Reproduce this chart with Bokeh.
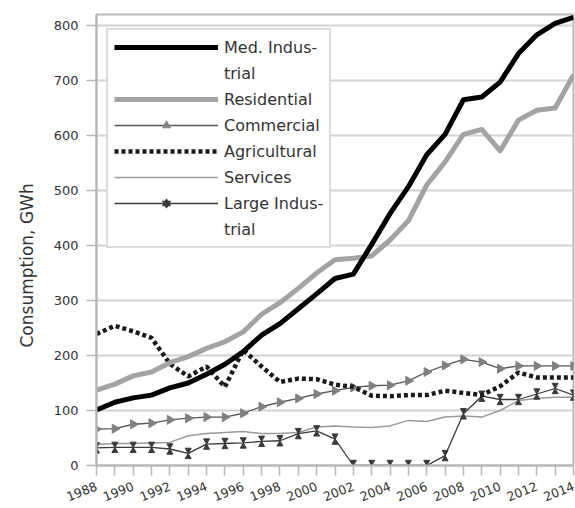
import math

from bokeh.plotting import figure
from bokeh.models import Range1d, FixedTicker, Legend, LegendItem, ColumnDataSource, Title
from bokeh.embed import file_html
from bokeh.resources import INLINE

# Electricity consumption by sector, GWh
years = [1988, 1989, 1990, 1991, 1992, 1993, 1994, 1995, 1996, 1997, 1998, 1999, 2000,
         2001, 2002, 2003, 2004, 2005, 2006, 2007, 2008, 2009, 2010, 2011, 2012, 2013, 2014]

med_industrial = [101, 115, 123, 128, 141, 150, 166, 184, 207, 237, 258, 285, 312,
                  340, 348, 402, 458, 507, 565, 602, 665, 670, 697, 749, 783, 804, 815]
residential = [137, 148, 163, 170, 187, 198, 213, 225, 243, 275, 296, 322, 350,
               374, 377, 381, 410, 445, 510, 552, 602, 611, 572, 628, 646, 650, 710]
commercial = [66, 67, 75, 77, 83, 86, 88, 88, 95, 107, 115, 122, 130,
              136, 142, 145, 146, 154, 170, 182, 193, 188, 176, 181, 181, 181, 181]
agricultural = [239, 254, 244, 232, 185, 162, 180, 143, 210, 180, 152, 158, 157,
                147, 143, 127, 126, 128, 128, 136, 132, 128, 144, 169, 160, 160, 160]
services = [38, 40, 40, 41, 42, 54, 58, 60, 62, 58, 58, 60, 70,
            72, 70, 69, 72, 82, 80, 88, 90, 88, 100, 118, 122, 124, 124]
large_industrial = [32, 33, 33, 33, 30, 22, 39, 40, 41, 44, 45, 58, 63,
                    48, 0, 0, 0, 0, 0, 18, 94, 126, 120, 120, 130, 140, 128]

y_ticks = [0, 100, 200, 300, 400, 500, 600, 700, 800]
x_label_years = [1988, 1990, 1992, 1994, 1996, 1998, 2000, 2002, 2004, 2006, 2008, 2010, 2012, 2014]

X_MIN, X_MAX = 1988, 2014
Y_MAX = 820
FRAME_L, FRAME_T, FRAME_W, FRAME_H = 96, 14, 477, 452
FONT = "DejaVu Sans"
TEXT = "#333333"
FRAME_GRAY = "#b8b8b8"

# pixel -> data conversion (vertical)
px_y = Y_MAX / FRAME_H

p = figure(width=575, height=508, output_backend="svg", toolbar_location=None,
           x_range=Range1d(X_MIN, X_MAX), y_range=Range1d(0, Y_MAX),
           min_border_left=FRAME_L, min_border_right=575 - FRAME_L - FRAME_W,
           min_border_top=FRAME_T, min_border_bottom=508 - FRAME_T - FRAME_H,
           background_fill_color="white", border_fill_color="white")

p.outline_line_color = FRAME_GRAY
p.outline_line_width = 2
p.xgrid.visible = False
p.ygrid.grid_line_color = "#d2d2d2"
p.ygrid.grid_line_width = 2

# a tick every year, a slanted label every second year
p.xaxis.ticker = FixedTicker(ticks=years)
p.xaxis.major_label_overrides = {yr: (str(yr) if yr in x_label_years else "") for yr in years}
p.xaxis.major_label_orientation = 0.38
p.xaxis.major_label_standoff = 10
p.xaxis.major_label_text_font_size = "12.5px"
p.yaxis.ticker = FixedTicker(ticks=y_ticks)
p.yaxis.major_label_standoff = 8
p.yaxis.major_label_text_font_size = "13px"

for ax in (p.xaxis[0], p.yaxis[0]):
    ax.axis_line_color = FRAME_GRAY
    ax.axis_line_width = 2
    ax.major_tick_line_color = FRAME_GRAY
    ax.major_tick_line_width = 1.5
    ax.major_tick_out = 10
    ax.major_tick_in = 0
    ax.minor_tick_line_color = None
    ax.major_label_text_font = FONT
    ax.major_label_text_color = TEXT

# vertical axis title
p.add_layout(Title(text="Consumption, GWh", align="left", offset=118, standoff=28,
                   text_font=FONT, text_font_size="17px", text_font_style="normal",
                   text_color=TEXT), "left")

# thin series
r_serv = p.line(years, services, line_color="#9a9a9a", line_width=1.5)

r_large = p.line(years, large_industrial, line_color="#3a3a3a", line_width=1.3)
# hourglass marker built from two triangles meeting at the data point
hg_size = 6
hg_px = hg_size / 2 * math.sqrt(3) * 2 / 3  # centroid-to-apex distance in px
hg_off = hg_px * px_y
r_large_top = p.scatter(years, [v + hg_off for v in large_industrial], marker="inverted_triangle",
                        size=hg_size, fill_color="#3a3a3a", line_color="#3a3a3a", line_width=1)
r_large_bot = p.scatter(years, [v - hg_off for v in large_industrial], marker="triangle",
                        size=hg_size, fill_color="#3a3a3a", line_color="#3a3a3a", line_width=1)

r_comm = p.line(years, commercial, line_color="#555555", line_width=1.3)
comm_src = ColumnDataSource(dict(x=years, y=commercial, a=[-math.pi / 2] * len(years)))
r_comm_m = p.scatter(x="x", y="y", angle="a", angle_units="rad", source=comm_src,
                     marker="triangle", size=9, fill_color="#808080", line_color="#808080")

r_agri = p.line(years, agricultural, line_color="#1a1a1a", line_width=4.5, line_dash="4 3")

r_res = p.line(years, residential, line_color="#a3a3a3", line_width=5, line_join="round")
r_med = p.line(years, med_industrial, line_color="#000000", line_width=5, line_join="round")

# invisible renderer for the wrapped second line of long legend labels
r_blank = p.line([], [], line_alpha=0)

legend = Legend(items=[
    LegendItem(label="Med. Indus-", renderers=[r_med]),
    LegendItem(label="trial", renderers=[r_blank]),
    LegendItem(label="Residential", renderers=[r_res]),
    LegendItem(label="Commercial", renderers=[r_comm, r_comm_m]),
    LegendItem(label="Agricultural", renderers=[r_agri]),
    LegendItem(label="Services", renderers=[r_serv]),
    LegendItem(label="Large Indus-", renderers=[r_large, r_large_top, r_large_bot]),
    LegendItem(label="trial", renderers=[r_blank]),
], location=(10, 217))
legend.border_line_color = FRAME_GRAY
legend.border_line_width = 2
legend.background_fill_color = "white"
legend.background_fill_alpha = 1
legend.padding = 6
legend.spacing = 4
legend.margin = 0
legend.glyph_width = 104
legend.glyph_height = 20
legend.label_standoff = 6
legend.label_height = 22
legend.label_text_font = FONT
legend.label_text_font_size = "16px"
legend.label_text_color = TEXT
p.add_layout(legend)

open("out.html", "w").write(file_html(p, INLINE))
